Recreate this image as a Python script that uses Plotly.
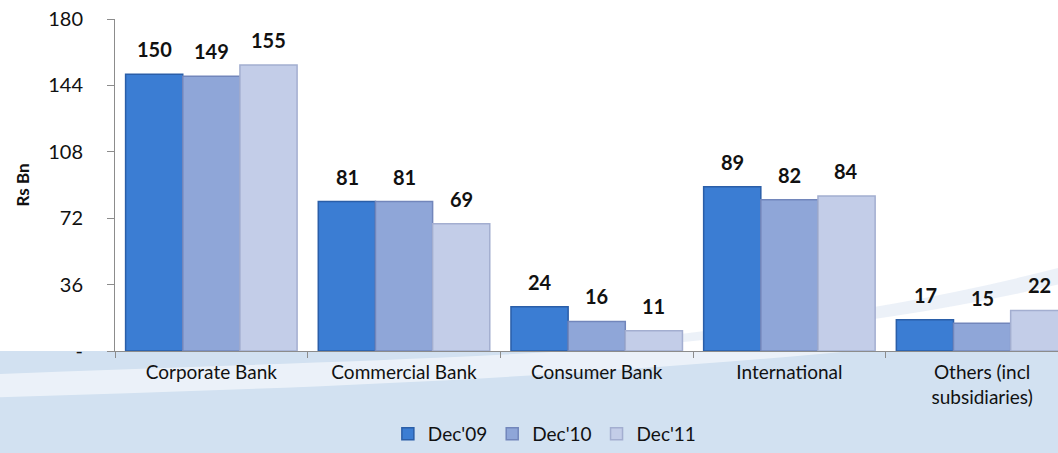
import plotly.graph_objects as go

categories = ["Corporate Bank", "Commercial Bank", "Consumer Bank", "International", "Others (incl<br>subsidiaries)"]
series_names = ["Dec'09", "Dec'10", "Dec'11"]
dec09 = [150, 81, 24, 89, 17]
dec10 = [149, 81, 16, 82, 15]
dec11 = [155, 69, 11, 84, 22]
y_ticks = [0, 36, 72, 108, 144, 180]
y_tick_labels = ["-", "36", "72", "108", "144", "180"]

colors = ["#3b7dd3", "#8fa6d8", "#c3cde8"]
edge = ["#2a5ea8", "#7286bb", "#a3aed0"]
FONT = "Lato, 'Liberation Sans Narrow', Arial, sans-serif"

fig = go.Figure()
all_series = [dec09, dec10, dec11]
for name, vals, c, e in zip(series_names, all_series, colors, edge):
    fig.add_trace(go.Bar(
        x=categories, y=vals, name=name,
        marker=dict(color=c, line=dict(color=e, width=1.5)),
    ))

# data labels
offsets = [-57, 0, 57]
for vals, off in zip(all_series, offsets):
    for cat, v in zip(categories, vals):
        fig.add_annotation(x=cat, y=v, text=f"<b>{v}</b>", showarrow=False,
                           xshift=off, yshift=11, yanchor="bottom",
                           font=dict(size=20, color="#111111", family=FONT))

# decorative background band
fig.add_shape(type="rect", xref="paper", yref="paper", x0=-0.2, x1=1.0, y0=-0.5, y1=0.0,
              fillcolor="#d2e1f1", line=dict(width=0), layer="below")
fig.add_shape(type="path", xref="paper", yref="paper",
              path="M -0.13 -0.07 C 0.2 -0.03, 0.5 -0.03, 1.0 0.12 L 1.0 0.06 C 0.5 -0.09, 0.2 -0.11, -0.13 -0.14 Z",
              fillcolor="rgba(255,255,255,0.55)", line=dict(width=0), layer="below")
fig.add_shape(type="path", xref="paper", yref="paper",
              path="M 0.5 0.02 C 0.7 0.08, 0.85 0.14, 1.0 0.25 L 1.0 0.2 C 0.85 0.1, 0.7 0.05, 0.5 0.0 Z",
              fillcolor="rgba(200,215,235,0.35)", line=dict(width=0), layer="below")

fig.update_layout(
    width=1058, height=453,
    margin=dict(l=115, r=0, t=19, b=102, autoexpand=False),
    paper_bgcolor="white", plot_bgcolor="rgba(0,0,0,0)",
    barmode="group", bargap=0.11, bargroupgap=0,
    font=dict(family=FONT, size=19, color="#111111"),
    showlegend=True,
    legend=dict(orientation="h", x=0.515, xanchor="center", xref="container",
                y=-0.005, yanchor="bottom", yref="container",
                font=dict(size=19), bgcolor="rgba(0,0,0,0)", itemwidth=30,
                tracegroupgap=0),
    xaxis=dict(range=[-0.5, 4.394], showline=True, linecolor="#8c8c8c", linewidth=1,
               ticks="outside", tickson="boundaries", ticklen=6, tickcolor="#8c8c8c",
               tickfont=dict(size=19), showgrid=False, ticklabelstandoff=4),
    yaxis=dict(range=[0, 180], tickvals=y_ticks, ticktext=y_tick_labels,
               showline=True, linecolor="#8c8c8c", linewidth=1,
               ticks="outside", ticklen=7, tickcolor="#8c8c8c",
               tickfont=dict(size=20), showgrid=False, zeroline=False,
               ticklabelstandoff=20,
               title=dict(text="<b>Rs Bn</b>", font=dict(size=17), standoff=14)),
)

fig.write_html("out.html")
